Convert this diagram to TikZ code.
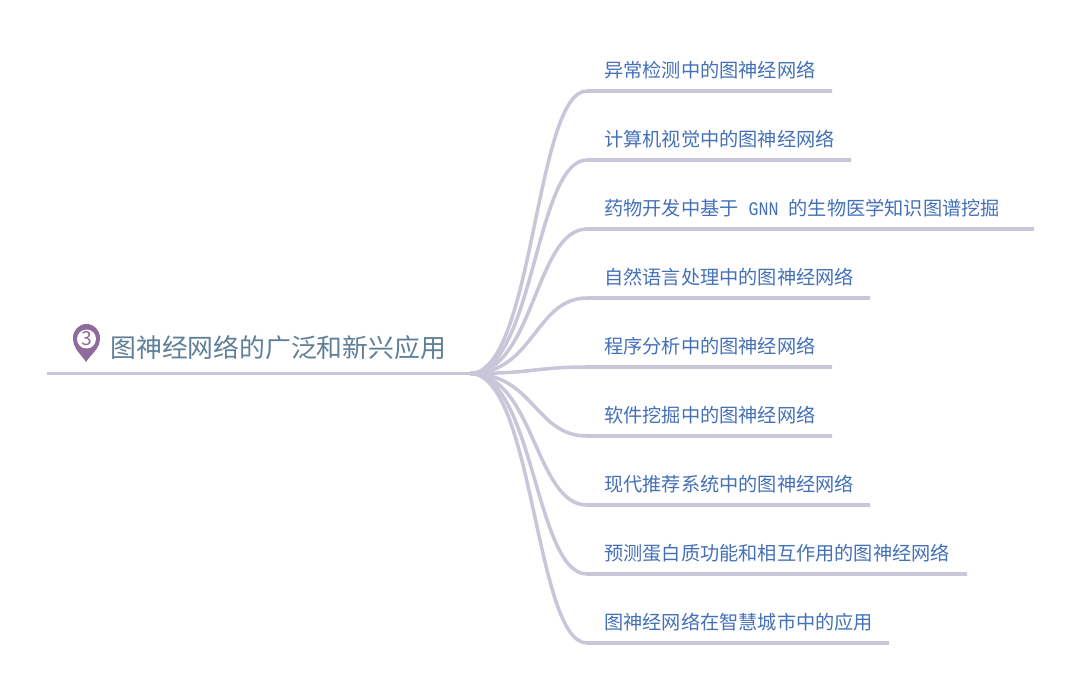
\documentclass[tikz,border=0pt]{standalone}
\usepackage{fontspec}
\setmainfont{Noto Sans CJK SC}
\newfontfamily\latinfont[FakeStretch=0.865]{Liberation Mono}
\usetikzlibrary{positioning,calc}
\definecolor{linecol}{HTML}{C9C6DA}
\definecolor{leafcol}{HTML}{4470B8}
\definecolor{rootcol}{HTML}{5F7F98}
\definecolor{pincol}{HTML}{8F6A9C}

\begin{document}
\begin{tikzpicture}[x=0.02cm,y=-0.02cm,
  leaf/.style={anchor=west, inner sep=0pt, text=leafcol, font=\fontsize{10.93pt}{13pt}\selectfont},
  root/.style={anchor=west, inner sep=0pt, text=rootcol, font=\fontsize{14.7pt}{17pt}\selectfont},
  branch/.style={draw=linecol, line width=2pt}]
\useasboundingbox (0,0) rectangle (1080,693);

% Root
\coordinate (rootstart) at (47,373.5);
\coordinate (hub) at (470,373.5);
\node[root] (title) at (110,348) {图神经网络的广泛和新兴应用};
\draw[branch] (rootstart) -- (hub);

% Marker
\fill[pincol] (86,362) .. controls (81,354) and (73,349) .. (73,338) .. controls (73,330) and (79,324) .. (86.5,324)
  .. controls (94,324) and (100,330) .. (100,338) .. controls (100,349) and (91,354) .. (86,362) -- cycle;
\node[circle, fill=white, minimum size=0.38cm, inner sep=0pt, text=pincol,
  font=\fontsize{11pt}{11pt}\selectfont] (marker) at (86.5,339) {3};

% Leaves
\node[leaf] (anomaly) at (604,70.5) {异常检测中的图神经网络};
\node[leaf] (vision) at (604,139.5) {计算机视觉中的图神经网络};
\node[leaf] (drug) at (604,208.5) {药物开发中基于{\latinfont\ GNN\ }的生物医学知识图谱挖掘};
\node[leaf] (nlp) at (604,277.5) {自然语言处理中的图神经网络};
\node[leaf] (program) at (604,346.5) {程序分析中的图神经网络};
\node[leaf] (software) at (604,415.5) {软件挖掘中的图神经网络};
\node[leaf] (recsys) at (604,484.5) {现代推荐系统中的图神经网络};
\node[leaf] (protein) at (604,553.5) {预测蛋白质功能和相互作用的图神经网络};
\node[leaf] (city) at (604,622.5) {图神经网络在智慧城市中的应用};

% Branches
\foreach \name/\ypos/\xend in {anomaly/91/832,vision/160/851,drug/229/1034,nlp/298/870,program/367/832,
  software/436/832,recsys/505/870,protein/574/967,city/643/889}{
  \coordinate (\name a) at (587,\ypos);
  \coordinate (\name b) at (\xend,\ypos);
  \draw[branch] (hub) .. controls (534,373.5) and (535,\ypos) .. (\name a) -- (\name b);
}
\end{tikzpicture}
\end{document}
